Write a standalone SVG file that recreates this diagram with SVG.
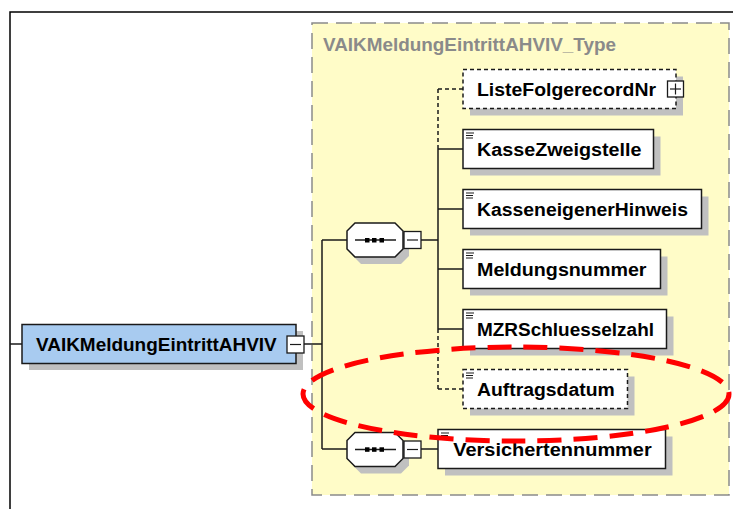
<svg xmlns="http://www.w3.org/2000/svg" width="733" height="509" viewBox="0 0 733 509">
<style>
.frame{fill:none;stroke:#000;stroke-width:1.5}
.type{fill:#FFFCC8;stroke:#8a8a8a;stroke-width:1.5;stroke-dasharray:16,8}
.shadow{fill:#c0c0c0;stroke:none}
.box{fill:#fff;stroke:#1a1a1a;stroke-width:1.5}
.opt{fill:#fff;stroke:#1a1a1a;stroke-width:1.5;stroke-dasharray:4,3}
.root{fill:#A8CBF0;stroke:#1a1a1a;stroke-width:1.5}
.lbl{font-family:"Liberation Sans",Arial,sans-serif;font-weight:bold;font-size:17.5px;fill:#000}
.title{font-family:"Liberation Sans",Arial,sans-serif;font-weight:bold;font-size:17.5px;fill:#8a8a8a}
.ln{fill:none;stroke:#1a1a1a;stroke-width:1.5}
.dln{fill:none;stroke:#1a1a1a;stroke-width:1.5;stroke-dasharray:4,3}
.icon{stroke:#1a1a1a;stroke-width:1.2}
.pm{fill:#fff;stroke:#1a1a1a;stroke-width:1.3}
.dot{fill:#000}
.mark{fill:none;stroke:#ff0000;stroke-width:5;stroke-dasharray:24,12}
</style>

<rect x="10" y="12" width="740" height="520" class="frame"/>

<g id="type-box">
<rect x="312" y="23" width="417" height="472" class="type"/>
<text x="323" y="50.5" class="title" textLength="293" lengthAdjust="spacingAndGlyphs">VAIKMeldungEintrittAHVIV_Type</text>
</g>

<g id="connectors">
<line x1="10" y1="344" x2="22" y2="344" class="ln"/>
<line x1="304" y1="344" x2="322" y2="344" class="ln"/>
<line x1="322" y1="240" x2="322" y2="449" class="ln"/>
<line x1="322" y1="240" x2="347" y2="240" class="ln"/>
<line x1="322" y1="449" x2="347" y2="449" class="ln"/>
<line x1="421" y1="240" x2="438" y2="240" class="ln"/>
<line x1="438" y1="89" x2="438" y2="149" class="dln"/>
<line x1="438" y1="149" x2="438" y2="329" class="ln"/>
<line x1="438" y1="329" x2="438" y2="389" class="dln"/>
<line x1="438" y1="89" x2="463" y2="89" class="dln"/>
<line x1="438" y1="149" x2="463" y2="149" class="ln"/>
<line x1="438" y1="209" x2="463" y2="209" class="ln"/>
<line x1="438" y1="269" x2="463" y2="269" class="ln"/>
<line x1="438" y1="329" x2="463" y2="329" class="ln"/>
<line x1="438" y1="389" x2="463" y2="389" class="dln"/>
<line x1="421" y1="449" x2="438" y2="449" class="ln"/>
</g>

<g id="root">
<rect x="29" y="331" width="274" height="39" class="shadow"/>
<rect x="22" y="324.5" width="274" height="39" class="root"/>
<text x="36" y="350.5" class="lbl" textLength="240.7" lengthAdjust="spacingAndGlyphs">VAIKMeldungEintrittAHVIV</text>
<rect x="287" y="336" width="17" height="17" class="pm"/>
<line x1="290" y1="344.5" x2="301" y2="344.5" class="icon"/>
</g>

<g id="seq1">
<path d="M361,230 H401 L409,238 V256 L401,264 H361 L353,256 V238 Z" class="shadow"/>
<path d="M355,223 H395 L403,231 V249 L395,257 H355 L347,249 V231 Z" class="box"/>
<line x1="355" y1="240" x2="396" y2="240" class="ln"/>
<rect x="365" y="238" width="4.5" height="4.5" class="dot"/>
<rect x="372" y="238" width="4.5" height="4.5" class="dot"/>
<rect x="379.5" y="238" width="4.5" height="4.5" class="dot"/>
<rect x="404" y="231.5" width="17" height="17" class="pm"/>
<line x1="407" y1="240" x2="418" y2="240" class="icon"/>
</g>

<g id="seq2">
<path d="M361,439.5 H401 L409,447.5 V465.5 L401,473.5 H361 L353,465.5 V447.5 Z" class="shadow"/>
<path d="M355,432.5 H395 L403,440.5 V458.5 L395,466.5 H355 L347,458.5 V440.5 Z" class="box"/>
<line x1="355" y1="449.5" x2="396" y2="449.5" class="ln"/>
<rect x="365" y="447.3" width="4.5" height="4.5" class="dot"/>
<rect x="372" y="447.3" width="4.5" height="4.5" class="dot"/>
<rect x="379.5" y="447.3" width="4.5" height="4.5" class="dot"/>
<rect x="404" y="441" width="17" height="17" class="pm"/>
<line x1="407" y1="449.5" x2="418" y2="449.5" class="icon"/>
</g>

<g id="ListeFolgerecordNr">
<rect x="470" y="76.5" width="213" height="39" class="shadow"/>
<rect x="463" y="69.5" width="213" height="39" class="opt"/>
<text x="477" y="95.5" class="lbl" textLength="179" lengthAdjust="spacingAndGlyphs">ListeFolgerecordNr</text>
<rect x="667.5" y="81" width="16" height="16" class="pm"/>
<line x1="670" y1="89" x2="681" y2="89" class="icon"/>
<line x1="675.5" y1="83.5" x2="675.5" y2="94.5" class="icon"/>
</g>

<g id="KasseZweigstelle">
<rect x="470" y="136.5" width="190.5" height="39" class="shadow"/>
<rect x="463" y="129.5" width="190.5" height="39" class="box"/>
<path d="M466,133 h8 M466,135.5 h7 M466,138 h7" class="icon"/>
<text x="477" y="155.5" class="lbl" textLength="164.5" lengthAdjust="spacingAndGlyphs">KasseZweigstelle</text>
</g>

<g id="KasseneigenerHinweis">
<rect x="470" y="196.5" width="238.5" height="39" class="shadow"/>
<rect x="463" y="189.5" width="238.5" height="39" class="box"/>
<path d="M466,193 h8 M466,195.5 h7 M466,198 h7" class="icon"/>
<text x="477" y="215.5" class="lbl" textLength="211" lengthAdjust="spacingAndGlyphs">KasseneigenerHinweis</text>
</g>

<g id="Meldungsnummer">
<rect x="470" y="256.5" width="197.5" height="39" class="shadow"/>
<rect x="463" y="249.5" width="197.5" height="39" class="box"/>
<path d="M466,253 h8 M466,255.5 h7 M466,258 h7" class="icon"/>
<text x="477" y="275.5" class="lbl" textLength="169.5" lengthAdjust="spacingAndGlyphs">Meldungsnummer</text>
</g>

<g id="MZRSchluesselzahl">
<rect x="470" y="316.5" width="203.5" height="39" class="shadow"/>
<rect x="463" y="309.5" width="203.5" height="39" class="box"/>
<path d="M466,313 h8 M466,315.5 h7 M466,318 h7" class="icon"/>
<text x="477" y="335.5" class="lbl" textLength="177" lengthAdjust="spacingAndGlyphs">MZRSchluesselzahl</text>
</g>

<g id="Auftragsdatum">
<rect x="470" y="376.5" width="164.5" height="39" class="shadow"/>
<rect x="463" y="369.5" width="164.5" height="39" class="opt"/>
<path d="M466,373 h8 M466,375.5 h7 M466,378 h7" class="icon"/>
<text x="477" y="395.5" class="lbl" textLength="137.7" lengthAdjust="spacingAndGlyphs">Auftragsdatum</text>
</g>

<g id="Versichertennummer">
<rect x="445" y="436.5" width="227.5" height="39" class="shadow"/>
<rect x="438" y="429.5" width="227.5" height="39" class="box"/>
<path d="M441,433 h8 M441,435.5 h7 M441,438 h7" class="icon"/>
<text x="453.3" y="455.5" class="lbl" textLength="198.4" lengthAdjust="spacingAndGlyphs">Versichertennummer</text>
</g>

<ellipse id="highlight" cx="516" cy="394" rx="213" ry="47" class="mark"/>
</svg>
